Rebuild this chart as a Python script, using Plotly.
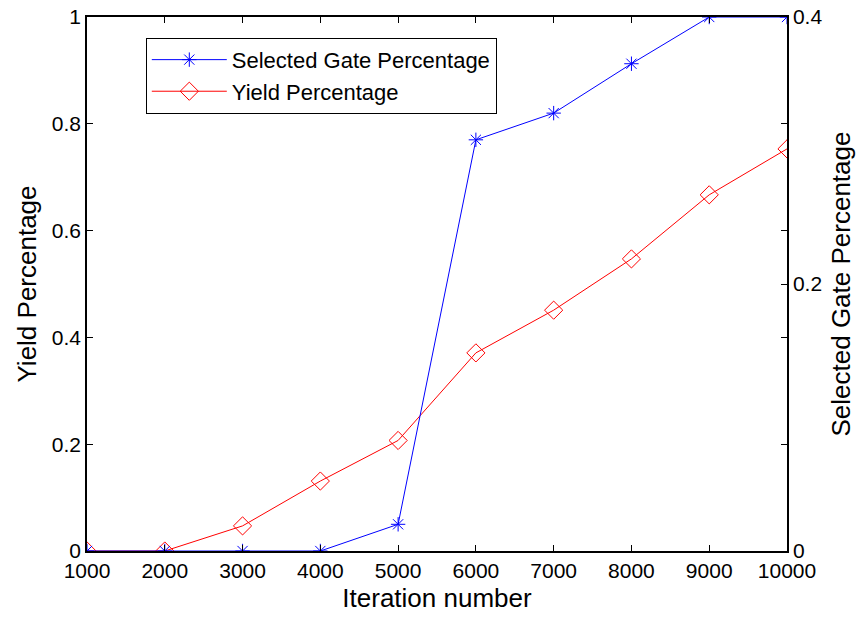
import plotly.graph_objects as go

iterations = [1000, 2000, 3000, 4000, 5000, 6000, 7000, 8000, 9000, 10000]
gate_pct = [0, 0, 0, 0, 0.02, 0.308, 0.328, 0.365, 0.4, 0.4]
yield_pct = [0, 0, 0.047, 0.131, 0.207, 0.371, 0.451, 0.547, 0.667, 0.753]

left_ticks = [0, 0.2, 0.4, 0.6, 0.8, 1]
left_ticktext = ["0", "0.2", "0.4", "0.6", "0.8", "1"]
right_ticks = [0, 0.2, 0.4]
right_ticktext = ["0", "0.2", "0.4"]
x_ticks = iterations
x_ticktext = [str(v) for v in iterations]

FONT = "Liberation Sans, Arial, sans-serif"

fig = go.Figure()
fig.add_trace(go.Scatter(
    x=iterations, y=gate_pct, name="Selected Gate Percentage", yaxis="y2",
    mode="lines+markers",
    line=dict(color="#0000ff", width=1),
    marker=dict(symbol="asterisk-open", size=12, color="#0000ff", line=dict(color="#0000ff", width=1)),
))
fig.add_trace(go.Scatter(
    x=iterations, y=yield_pct, name="Yield Percentage", yaxis="y",
    mode="lines+markers",
    line=dict(color="#ff0000", width=1),
    marker=dict(symbol="diamond-open", size=14, color="#ff0000", line=dict(color="#ff0000", width=1)),
))

axis_common = dict(
    showgrid=False, zeroline=False, showline=True, linecolor="black", linewidth=1.5,
    ticks="inside", ticklen=6, tickcolor="black", tickwidth=1,
    tickfont=dict(family=FONT, size=21, color="black"),
    automargin=False,
)

fig.update_layout(
    width=861, height=619,
    margin=dict(l=87, r=74, t=17, b=68),
    paper_bgcolor="white", plot_bgcolor="white",
    font=dict(family=FONT, color="black"),
    xaxis=dict(
        **axis_common, range=[1000, 10000], tickvals=x_ticks, ticktext=x_ticktext,
        mirror="ticks",
        title=dict(text="Iteration number", font=dict(family=FONT, size=26), standoff=8),
    ),
    yaxis=dict(
        **axis_common, range=[0, 1], tickvals=left_ticks, ticktext=left_ticktext,
        mirror="ticks",
        title=dict(text="Yield Percentage", font=dict(family=FONT, size=26), standoff=8),
    ),
    yaxis2=dict(
        **axis_common, range=[0, 0.4], tickvals=right_ticks, ticktext=right_ticktext,
        overlaying="y", side="right",
        title=dict(text="Selected Gate Percentage", font=dict(family=FONT, size=26), standoff=10),
    ),
    legend=dict(
        x=0.084, y=0.961, xanchor="left", yanchor="top",
        bgcolor="white", bordercolor="black", borderwidth=1,
        font=dict(family=FONT, size=22, color="black"),
        itemwidth=75,
    ),
    showlegend=True,
)

fig.write_html("out.html")
